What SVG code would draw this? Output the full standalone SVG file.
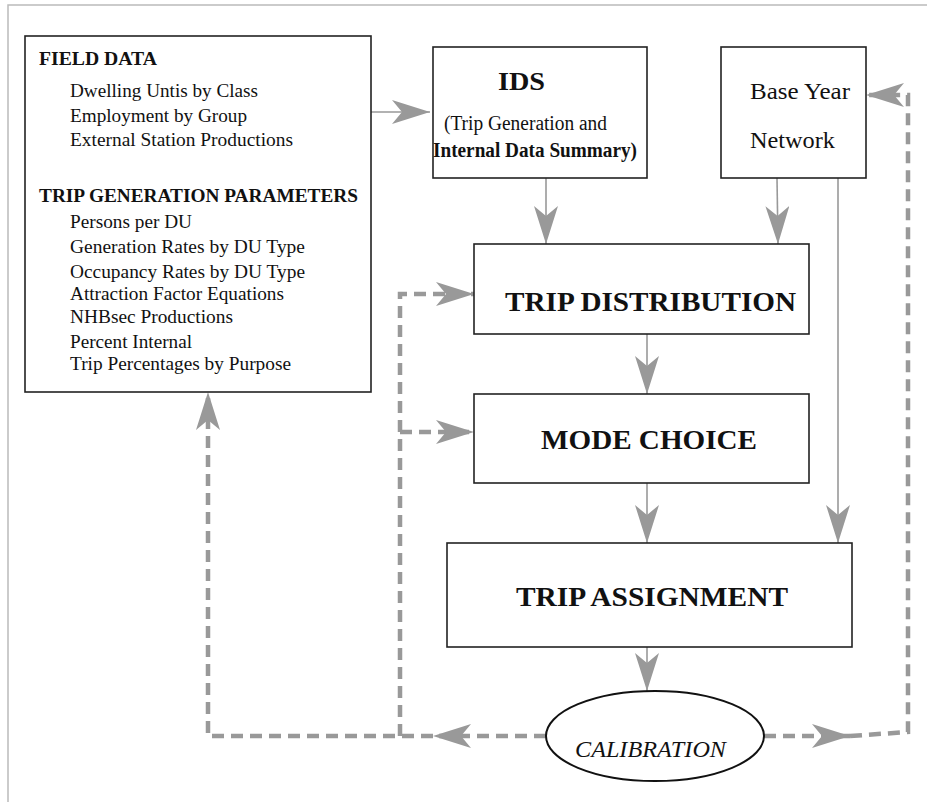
<svg xmlns="http://www.w3.org/2000/svg" width="927" height="802" viewBox="0 0 927 802">
<defs>
<marker id="ah" markerUnits="userSpaceOnUse" viewBox="0 0 38 24" refX="38" refY="12" markerWidth="38" markerHeight="24" orient="auto">
<path d="M0,0 L38,12 L0,24 L10,12 Z" fill="#999" stroke="none"/>
</marker>
</defs>
<style>
.box{fill:#fff;stroke:#222;stroke-width:1.6}
.t{font-family:"Liberation Serif","Times New Roman",serif;fill:#111}
.b{font-weight:bold}
.it{font-size:18.5px}
.sol{fill:none;stroke:#999;stroke-width:1.6}
.dash{fill:none;stroke:#999;stroke-width:4.5;stroke-dasharray:12 7}
</style>
<rect width="927" height="802" fill="#fff"/>
<path d="M8,802 V5 H927" fill="none" stroke="#bbb" stroke-width="1.5"/>

<g id="connectors">
<path class="sol" d="M371,112 H430" marker-end="url(#ah)"/>
<path class="sol" d="M546,178 V244" marker-end="url(#ah)"/>
<path class="sol" d="M777,178 L778,244" marker-end="url(#ah)"/>
<path class="sol" d="M838,178 V543" marker-end="url(#ah)"/>
<path class="sol" d="M647,334 V394" marker-end="url(#ah)"/>
<path class="sol" d="M647,483 V543" marker-end="url(#ah)"/>
<path class="sol" d="M647,647 V691" marker-end="url(#ah)"/>
<path class="dash" d="M546,736 H433" marker-end="url(#ah)"/>
<path class="dash" d="M433,736 H208 V392" marker-end="url(#ah)"/>
<path class="dash" d="M400,736 V294 H474" marker-end="url(#ah)"/>
<path class="dash" d="M400,432 H474" marker-end="url(#ah)"/>
<path class="dash" d="M764,736 H850" marker-end="url(#ah)"/>
<path class="dash" d="M850,736 L908,732 V95 H866" marker-end="url(#ah)"/>
</g>

<g id="field-data">
<rect class="box" x="25" y="36" width="346" height="356"/>
<text class="t b" x="39" y="65" font-size="19.5" textLength="118" lengthAdjust="spacingAndGlyphs">FIELD DATA</text>
<text class="t it" x="70" y="97" textLength="188" lengthAdjust="spacingAndGlyphs">Dwelling Untis by Class</text>
<text class="t it" x="70" y="122" textLength="177" lengthAdjust="spacingAndGlyphs">Employment by Group</text>
<text class="t it" x="70" y="146" textLength="223" lengthAdjust="spacingAndGlyphs">External Station Productions</text>
<text class="t b" x="39" y="202" font-size="19.5" textLength="319" lengthAdjust="spacingAndGlyphs">TRIP GENERATION PARAMETERS</text>
<text class="t it" x="70" y="228" textLength="122" lengthAdjust="spacingAndGlyphs">Persons per DU</text>
<text class="t it" x="70" y="253" textLength="235" lengthAdjust="spacingAndGlyphs">Generation Rates by DU Type</text>
<text class="t it" x="70" y="278" textLength="235" lengthAdjust="spacingAndGlyphs">Occupancy Rates by DU Type</text>
<text class="t it" x="70" y="300" textLength="214" lengthAdjust="spacingAndGlyphs">Attraction Factor Equations</text>
<text class="t it" x="70" y="323" textLength="163" lengthAdjust="spacingAndGlyphs">NHBsec Productions</text>
<text class="t it" x="70" y="348" textLength="122" lengthAdjust="spacingAndGlyphs">Percent Internal</text>
<text class="t it" x="70" y="370" textLength="221" lengthAdjust="spacingAndGlyphs">Trip Percentages by Purpose</text>
</g>

<g id="ids">
<rect class="box" x="433" y="47" width="214" height="131"/>
<text class="t b" x="498" y="90" font-size="26" textLength="47" lengthAdjust="spacingAndGlyphs">IDS</text>
<text class="t" x="444" y="130" font-size="20" textLength="163" lengthAdjust="spacingAndGlyphs">(Trip Generation and</text>
<text class="t b" x="433" y="157" font-size="20" textLength="204" lengthAdjust="spacingAndGlyphs">Internal Data Summary)</text>
</g>

<g id="base-year-network">
<rect class="box" x="721" y="47" width="145" height="131"/>
<text class="t" x="750" y="99" font-size="24" textLength="100" lengthAdjust="spacingAndGlyphs">Base Year</text>
<text class="t" x="750" y="148" font-size="24" textLength="85" lengthAdjust="spacingAndGlyphs">Network</text>
</g>

<g id="trip-distribution">
<rect class="box" x="474" y="244" width="335" height="90"/>
<text class="t b" x="505" y="311" font-size="28" textLength="291" lengthAdjust="spacingAndGlyphs">TRIP DISTRIBUTION</text>
</g>

<g id="mode-choice">
<rect class="box" x="474" y="394" width="335" height="89"/>
<text class="t b" x="541" y="449" font-size="28" textLength="216" lengthAdjust="spacingAndGlyphs">MODE CHOICE</text>
</g>

<g id="trip-assignment">
<rect class="box" x="447" y="543" width="405" height="104"/>
<text class="t b" x="516" y="606" font-size="28" textLength="272" lengthAdjust="spacingAndGlyphs">TRIP ASSIGNMENT</text>
</g>

<g id="calibration">
<ellipse cx="655" cy="736" rx="109" ry="45" fill="#fff" stroke="#111" stroke-width="2"/>
<text class="t" x="575" y="757" font-size="24" font-style="italic" textLength="151" lengthAdjust="spacingAndGlyphs">CALIBRATION</text>
</g>
</svg>
